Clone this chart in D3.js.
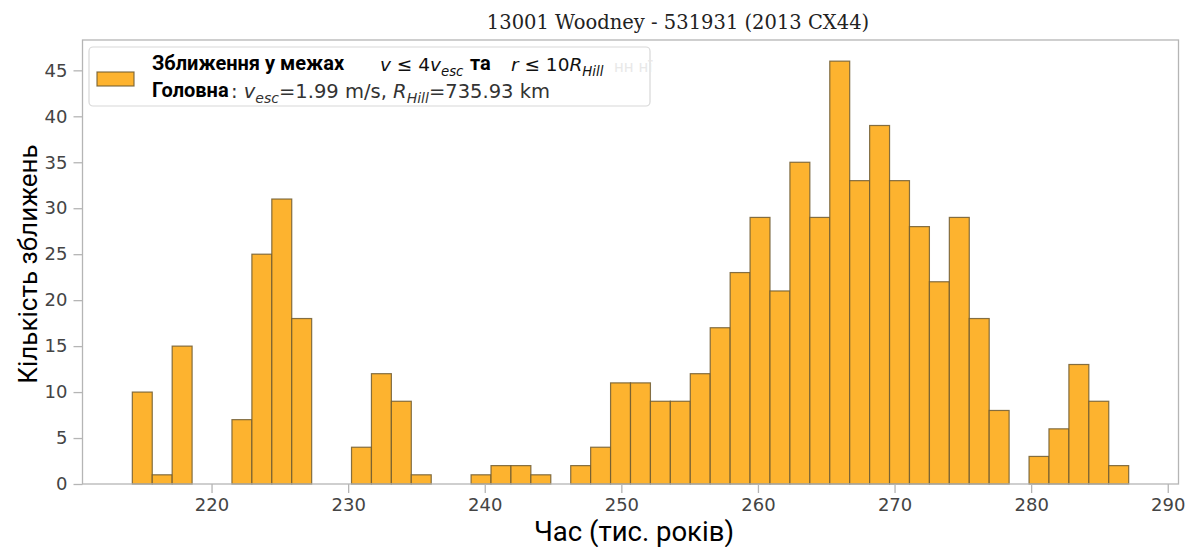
<!DOCTYPE html>
<html>
<head>
<meta charset="utf-8">
<script src="https://cdn.jsdelivr.net/npm/d3@7"></script>
<style>
  html, body { margin: 0; padding: 0; background: #fff; }
  svg { display: block; }
</style>
</head>
<body>
<svg id="chart" width="1191" height="547"></svg>
<script>
// ---- data ----
const histRange = [214.2, 287.14];      // min / max of the sample (thousand years)
const binCount = 50;
const counts = [10, 1, 15, 0, 0, 7, 25, 31, 18, 0,
                0, 4, 12, 9, 1, 0, 0, 1, 2, 2,
                1, 0, 2, 4, 11, 11, 9, 9, 12, 17,
                23, 29, 21, 35, 29, 46, 33, 39, 33, 28,
                22, 29, 18, 8, 0, 3, 6, 13, 9, 2];
const xTicks = [220, 230, 240, 250, 260, 270, 280, 290];
const yTicks = [0, 5, 10, 15, 20, 25, 30, 35, 40, 45];
const titleText = "13001 Woodney - 531931 (2013 CX44)";
const xLabel = "Час (тис. років)";
const yLabel = "Кількість зближень";

// ---- layout ----
const L = 82.5, R = 1178.5, T = 40, B = 484;
const svg = d3.select("#chart");

const span = histRange[1] - histRange[0];
const x = d3.scaleLinear()
  .domain([histRange[0] - 0.05 * span, histRange[1] + 0.05 * span])
  .range([L, R]);
const ymax = d3.max(counts) * 1.05;
const y = d3.scaleLinear().domain([0, ymax]).range([B, T]);

const bw = span / binCount;
const bins = counts.map((c, i) => ({x0: histRange[0] + i * bw, x1: histRange[0] + (i + 1) * bw, n: c}));

// bars
svg.append("g").selectAll("rect")
  .data(bins.filter(d => d.n > 0))
  .join("rect")
  .attr("x", d => x(d.x0))
  .attr("y", d => y(d.n))
  .attr("width", d => x(d.x1) - x(d.x0))
  .attr("height", d => y(0) - y(d.n))
  .attr("fill", "#FDB32F")
  .attr("stroke", "#6e5a30")
  .attr("stroke-opacity", 0.85)
  .attr("stroke-width", 1.2);

// frame
svg.append("rect")
  .attr("x", L).attr("y", T).attr("width", R - L).attr("height", B - T)
  .attr("fill", "none").attr("stroke", "#b5b5b5").attr("stroke-width", 1.3);

// axes
const xAxis = d3.axisBottom(x).tickValues(xTicks).tickSize(9).tickPadding(5).tickFormat(d3.format("d"));
const gx = svg.append("g").attr("transform", `translate(0,${B})`).call(xAxis);
const yAxis = d3.axisLeft(y).tickValues(yTicks).tickSize(9).tickPadding(6).tickFormat(d3.format("d"));
const gy = svg.append("g").attr("transform", `translate(${L},0)`).call(yAxis);
[gx, gy].forEach(g => {
  g.select(".domain").remove();
  g.selectAll(".tick line").attr("stroke", "#b5b5b5").attr("stroke-width", 1.3);
  g.selectAll(".tick text").attr("fill", "#444").style("font-family", "DejaVu Sans").style("font-size", "18px");
});

// title
svg.append("text")
  .attr("x", 678).attr("y", 29)
  .attr("text-anchor", "middle")
  .style("font-family", "DejaVu Serif").style("font-size", "19.5px").attr("fill", "#222")
  .text(titleText);

// axis labels
svg.append("text")
  .attr("x", 634).attr("y", 541)
  .attr("text-anchor", "middle")
  .style("font-family", "Roboto").style("font-size", "27.5px").attr("fill", "#000")
  .text(xLabel);
svg.append("text")
  .attr("transform", "translate(37,264) rotate(-90)")
  .attr("text-anchor", "middle")
  .style("font-family", "Roboto").style("font-size", "26px").attr("fill", "#000")
  .text(yLabel);

// legend
const lg = svg.append("g");
lg.append("rect").attr("x", 89).attr("y", 47).attr("width", 561).attr("height", 59).attr("rx", 4)
  .attr("fill", "#fff").attr("stroke", "#d8d8d8").attr("stroke-width", 1.2);
lg.append("rect").attr("x", 97).attr("y", 72).attr("width", 37).attr("height", 14)
  .attr("fill", "#FDB32F").attr("stroke", "#6e5a30").attr("stroke-opacity", 0.85).attr("stroke-width", 1.2);

// ghost text remnants
lg.append("text").attr("x", 614).attr("y", 72).style("font-family", "DejaVu Sans").style("font-size", "15px")
  .attr("fill", "#e8e8e8").text("нн нї");

const bold = {"font-family": "Roboto", "font-weight": "700", "font-size": "20px"};
const math1 = {"font-family": "DejaVu Sans", "font-size": "18.5px"};
const math2 = {"font-family": "DejaVu Sans", "font-size": "19.5px"};
function seg(xp, yp, txt, st, fill) {
  const t = lg.append("text").attr("x", xp).attr("y", yp).attr("fill", fill);
  Object.entries(st).forEach(([k, v]) => t.style(k, v));
  if (txt) t.text(txt);
  return t;
}
function part(t, txt, italic, subscr) {
  const s = t.append("tspan").text(txt);
  if (italic) s.style("font-style", "italic");
  if (subscr === 1) s.attr("dy", 4.5).style("font-size", "0.72em");
  if (subscr === -1) s.attr("dy", -4.5);
  return s;
}
// line 1
seg(152, 70, "Зближення у межах", bold, "#000");
const m1 = seg(380, 71, "", math1, "#111");
part(m1, "v", true); part(m1, " ≤ 4", false); part(m1, "v", true); part(m1, "esc", true, 1);
seg(470, 70, "та", bold, "#000");
const m2 = seg(511, 71, "", math1, "#111");
part(m2, "r", true); part(m2, " ≤ 10", false); part(m2, "R", true); part(m2, "Hill", true, 1);
// line 2
seg(152, 97, "Головна", bold, "#000");
const l2 = seg(231, 98, "", math2, "#333");
part(l2, ": ", false); part(l2, "v", true); part(l2, "esc", true, 1);
part(l2, "=1.99 m/s, ", false, -1); part(l2, "R", true); part(l2, "Hill", true, 1);
part(l2, "=735.93 km", false, -1);
</script>
</body>
</html>
